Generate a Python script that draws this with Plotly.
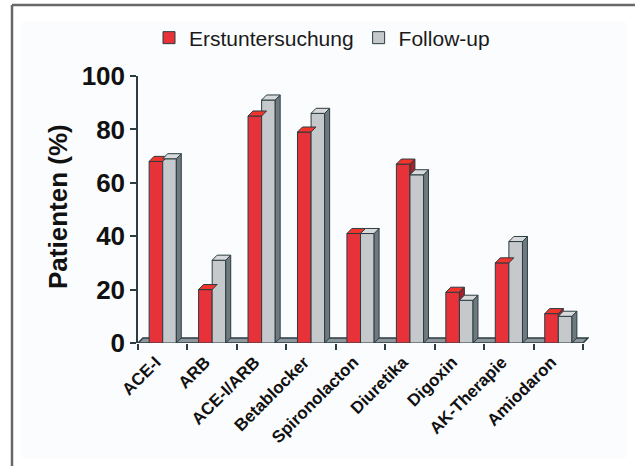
import plotly.graph_objects as go

categories = ["ACE-I", "ARB", "ACE-I/ARB", "Betablocker", "Spironolacton",
              "Diuretika", "Digoxin", "AK-Therapie", "Amiodaron"]
erst = [68, 20, 85, 79, 41, 67, 19, 30, 11]
follow = [69, 31, 91, 86, 41, 63, 16, 38, 10]
series_names = ["Erstuntersuchung", "Follow-up"]
y_ticks = [0, 20, 40, 60, 80, 100]
y_title = "Patienten (%)"

# styling / 3D geometry (in axis units)
W = 0.275
DX = 0.1
DY = 1.9
OUT = "#2b3c42"
RED, RED_TOP, RED_SIDE = "#e8323a", "#f2352c", "#a3232a"
GRY, GRY_TOP, GRY_SIDE = "#c6c9cc", "#d7d9db", "#6f7a80"
FONT = "Liberation Sans, Arial, sans-serif"

n = len(categories)
xs = list(range(n))

fig = go.Figure()
fig.add_bar(x=xs, y=erst, name=series_names[0], width=W, offset=-W,
            marker=dict(color=RED, line=dict(color=OUT, width=1)))
fig.add_bar(x=xs, y=follow, name=series_names[1], width=W, offset=0,
            marker=dict(color=GRY, line=dict(color=OUT, width=1)))


def poly_trace(polys, color):
    px, py = [], []
    for p in polys:
        for (a, b) in p:
            px.append(a)
            py.append(b)
        px.append(p[0][0])
        py.append(p[0][1])
        px.append(None)
        py.append(None)
    return go.Scatter(x=px, y=py, mode="lines", fill="toself", fillcolor=color,
                      line=dict(color=OUT, width=1), showlegend=False,
                      hoverinfo="skip")


red_tops, red_sides, gray_sides, gray_tops = [], [], [], []
for i, (r, g) in enumerate(zip(erst, follow)):
    red_tops.append([(i - W, r), (i - W + DX, r + DY), (i + DX, r + DY), (i, r)])
    if r > g:
        red_sides.append([(i, g), (i, r), (i + DX, r + DY), (i + DX, g + DY)])
    gray_sides.append([(i + W, 0), (i + W, g), (i + W + DX, g + DY), (i + W + DX, DY)])
    gray_tops.append([(i, g), (i + DX, g + DY), (i + W + DX, g + DY), (i + W, g)])

fig.add_trace(poly_trace(red_tops, RED_TOP))
if red_sides:
    fig.add_trace(poly_trace(red_sides, RED_SIDE))
fig.add_trace(poly_trace(gray_sides, GRY_SIDE))
fig.add_trace(poly_trace(gray_tops, GRY_TOP))

W_PX, H_PX = 635, 466
x_lo, x_hi = -0.5, n - 0.5
floor_path = (f"M {x_lo},0 L {x_hi},0 L {x_hi + DX},{DY} "
              f"L {x_lo + DX},{DY} Z")

shapes = [
    # panel
    dict(type="rect", xref="paper", yref="paper", layer="below",
         x0=22 / W_PX, x1=626 / W_PX, y0=1 - 458 / H_PX, y1=1 - 22 / H_PX,
         fillcolor="#fbfcfe", line=dict(width=0)),
    # outer frame (left and top)
    dict(type="line", xref="paper", yref="paper", layer="below",
         x0=12 / W_PX, x1=12 / W_PX, y0=0, y1=1 - 5 / H_PX,
         line=dict(color="#686868", width=2.5)),
    dict(type="line", xref="paper", yref="paper", layer="below",
         x0=12 / W_PX, x1=1, y0=1 - 5 / H_PX, y1=1 - 5 / H_PX,
         line=dict(color="#686868", width=2.5)),
    # floor
    dict(type="path", xref="x", yref="y", layer="below", path=floor_path,
         fillcolor="#8d979c", line=dict(color=OUT, width=1.5)),
]

fig.update_layout(
    width=W_PX, height=H_PX,
    margin=dict(l=0, r=0, t=0, b=0, pad=0),
    paper_bgcolor="white",
    plot_bgcolor="rgba(0,0,0,0)",
    barmode="overlay",
    shapes=shapes,
    font=dict(family=FONT, color="#111111"),
    showlegend=True,
    legend=dict(orientation="h", x=322 / W_PX, xanchor="center",
                y=1 - 38 / H_PX, yanchor="middle",
                bgcolor="rgba(0,0,0,0)",
                font=dict(family=FONT, size=21, color="#1a1a1a"),
                itemwidth=30, traceorder="normal"),
    xaxis=dict(domain=[138 / W_PX, 589 / W_PX], range=[x_lo, x_hi + 0.12],
               automargin=False,
               tickmode="array", tickvals=xs, ticktext=categories,
               ticks="", tickangle=-45, showgrid=False, zeroline=False,
               showline=False, ticklabelshift=-7, ticklabelstandoff=5,
               tickfont=dict(family=FONT, size=17, color="#111111", weight=700),
               minor=dict(tick0=x_lo, dtick=1, ticks="outside", ticklen=6,
                          tickwidth=1.5, tickcolor=OUT, showgrid=False)),
    yaxis=dict(domain=[1 - 343 / H_PX, 1 - 76 / H_PX], range=[0, 100],
               automargin=False,
               tickmode="array", tickvals=y_ticks,
               ticks="outside", ticklen=6, tickwidth=1.5, tickcolor=OUT,
               showline=True, linecolor=OUT, linewidth=1.5,
               showgrid=False, zeroline=False,
               tickfont=dict(family=FONT, size=26, color="#111111", weight=700)),
    annotations=[dict(text=y_title, xref="paper", yref="paper",
                      x=58 / W_PX, y=1 - 207 / H_PX, textangle=-90,
                      showarrow=False, xanchor="center", yanchor="middle",
                      font=dict(family=FONT, size=26, color="#111111", weight=700))],
)

fig.write_html("out.html")
